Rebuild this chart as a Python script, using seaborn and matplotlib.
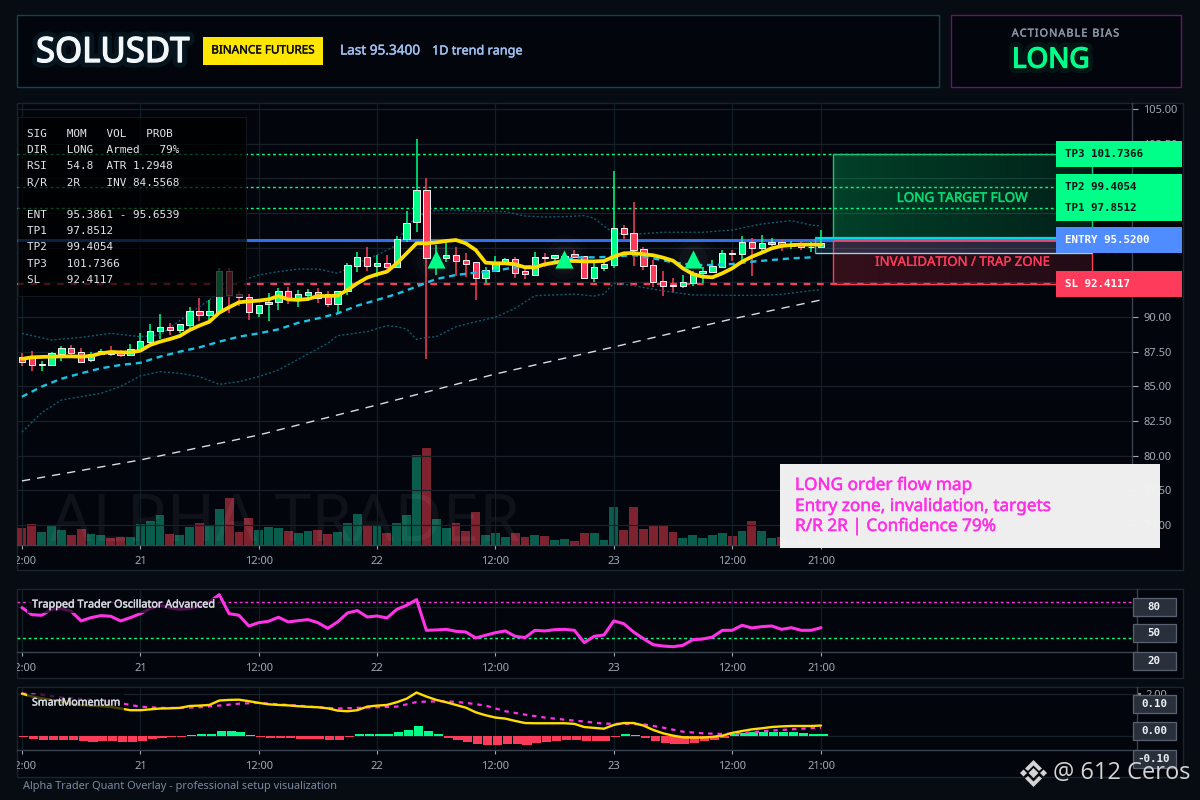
import numpy as np
import pandas as pd
import matplotlib
matplotlib.use("Agg")
import matplotlib.pyplot as plt
import matplotlib.patheffects as pe
from matplotlib.patches import Rectangle, Polygon
from matplotlib.transforms import blended_transform_factory, Bbox
import seaborn as sns

# candles, one per hour, 20th 12:00 to 23rd 21:00
opens = [87.14,87.09,86.54,86.56,87.33,87.74,87.50,86.90,87.33,87.57,87.50,87.24,87.62,88.22,89.01,89.25,89.09,89.45,90.41,90.17,
         90.38,93.32,91.63,91.47,90.31,90.91,91.06,91.85,91.27,91.59,91.78,91.63,90.96,91.85,93.70,94.30,93.70,93.87,93.63,95.65,
         96.83,99.13,93.87,94.25,94.45,94.09,93.94,92.84,93.34,93.82,94.16,93.29,93.05,94.35,94.25,94.20,94.52,94.38,92.84,93.56,
         93.77,96.39,96.03,94.90,93.73,92.57,92.33,92.26,92.45,93.17,93.27,93.63,94.62,94.57,95.38,95.00,95.29,95.38,95.12,95.24,95.02,95.02]
highs = [87.43,87.55,86.83,87.45,87.91,87.98,87.74,87.50,87.67,87.91,87.62,88.03,88.82,89.50,90.22,89.54,89.50,90.70,91.35,91.23,
         93.50,93.50,91.90,91.66,90.90,91.70,92.07,92.14,91.95,92.00,92.07,91.85,91.85,93.87,94.69,95.05,94.47,94.47,95.84,97.64,
         102.84,100.02,95.19,95.43,95.05,94.59,94.00,93.58,94.40,94.25,94.33,93.58,94.69,94.64,94.45,94.60,94.83,94.38,93.99,93.99,
         100.53,96.63,98.32,95.02,94.11,93.32,92.79,93.03,93.30,93.63,94.11,94.83,94.83,95.84,95.70,95.91,95.70,95.55,95.50,95.48,95.38,96.27]
lows = [86.49,86.13,86.13,86.56,86.85,87.14,86.73,86.78,87.26,87.19,87.14,87.19,87.57,87.98,88.39,88.70,88.82,89.18,89.71,89.78,
        90.38,90.26,90.79,89.78,89.98,89.74,90.50,90.94,90.70,91.15,91.03,90.75,90.31,91.59,93.25,93.34,92.91,93.20,93.63,95.43,
        96.13,87.00,93.03,93.99,92.98,92.91,91.23,92.48,93.27,93.82,92.84,92.74,93.05,93.58,93.87,93.70,94.23,92.72,92.55,93.34,
        93.56,95.60,93.70,93.39,92.19,91.54,91.71,92.12,92.26,92.48,93.20,93.63,94.04,93.87,92.96,94.71,95.12,94.76,94.90,94.83,94.71,95.00]
closes = [86.78,86.54,86.59,87.38,87.74,87.43,86.78,87.31,87.57,87.33,87.26,87.67,88.25,88.97,89.25,89.09,89.47,90.41,90.17,90.41,
          93.32,91.61,91.47,90.34,90.84,91.08,91.85,91.30,91.63,91.78,91.35,90.96,91.85,93.73,94.30,93.70,93.87,93.63,95.60,96.75,
          99.13,94.23,94.35,94.45,94.06,93.85,92.84,93.37,93.87,94.16,93.20,93.08,94.30,94.25,94.45,94.40,94.35,92.84,93.58,93.80,
          96.39,96.01,94.83,93.70,92.55,92.26,92.26,92.50,93.15,93.32,93.65,94.59,94.57,95.38,95.00,95.31,95.41,95.14,95.24,95.02,95.07,95.34]
volume = [17.3,21.3,13.3,19.3,15.3,10.3,16.3,11.3,10.3,7.3,8.3,8.3,21.3,24.3,30.3,11.3,10.3,18.3,22.3,20.3,
          36.3,47.3,13.3,27.3,15.3,18.3,17.3,14.3,12.3,14.3,15.3,11.3,13.3,22.3,31.3,20.3,19.3,12.3,22.3,30.3,
          90,97,26.3,17.3,22.3,14.3,33.3,10.3,12.3,8.3,12.3,8.3,10.3,9.3,5.3,6.3,4.3,12.3,12.3,5.3,
          38.3,15.3,38.3,16.3,20.3,20.3,13.3,7.3,10.3,7.3,10.3,12.3,9.3,14.3,24.3,14.3,7.3,8.3,6,8,6,8]

ema_fast = [86.98,87.09,87.12,87.14,87.16,87.16,87.14,87.19,87.38,87.48,87.45,87.45,87.57,87.98,88.22,88.41,88.63,89.06,89.38,89.66,
            90.31,90.70,91.06,91.13,91.18,91.27,91.51,91.27,91.23,91.30,91.51,91.51,91.54,91.95,92.43,92.84,93.08,93.27,93.87,94.59,
            95.31,95.31,95.38,95.48,95.55,95.31,94.83,93.92,93.87,93.87,93.80,93.58,93.58,93.80,93.92,94.04,94.04,94.01,94.01,94.04,
            94.35,94.59,94.62,94.52,94.45,94.28,94.06,93.51,93.10,92.91,92.86,93.15,93.51,93.99,94.35,94.64,94.95,95.12,95.19,95.22,95.22,95.22]
slow_x = list(range(0, 82, 2))
ema_slow = [84.25,84.98,85.55,85.94,86.30,86.54,86.70,87.14,87.50,87.81,88.22,88.58,88.82,89.11,89.58,89.90,90.26,90.82,91.23,91.66,
            92.19,92.74,93.03,93.20,93.34,93.58,93.68,93.87,94.30,94.30,94.35,94.47,94.23,93.94,93.75,93.75,93.82,93.99,94.11,94.23,94.30]
upper_x = [0,3,6,9,12,14,17,19,20,22,24,26,28,30,32,34,36,38,39,40,41,43,46,49,51,53,55,57,58,59,60,62,65,69,72,75,78,80,81]
upper_band = [88.82,88.34,88.53,88.82,88.58,88.70,90.26,91.23,91.83,92.55,93.03,93.27,93.45,93.46,93.15,93.87,94.47,95.19,96.63,97.12,97.60,97.72,97.64,97.60,97.28,97.21,97.24,97.31,97.12,96.56,96.03,95.96,96.11,96.11,96.27,96.71,96.95,96.63,96.56]
lower_x = [0,2,4,8,10,12,14,16,18,20,22,24,26,28,31,32,35,37,38,39,40,41,42,44,46,48,50,52,54,56,58,59,60,62,65,68,72,75,77,80,81]
lower_band = [81.70,83.10,84.01,84.50,84.98,85.75,86.06,85.94,85.70,85.14,85.34,85.70,86.18,86.95,88.10,88.65,88.94,89.38,89.30,89.13,88.39,88.53,88.58,89.30,89.66,89.98,90.63,91.54,91.59,91.65,91.51,91.66,92.43,92.26,91.88,91.59,91.56,91.56,91.63,91.90,91.95]
trend_x = [0,12,24,36,48,60,72,81]
trend = [78.18,79.69,81.49,83.66,85.89,87.84,89.86,91.23]
signal_x = [42, 55, 68]
signal_y = [94.18, 94.18, 94.18]

# levels
tp3, tp2, tp1, entry, stop = 101.7366, 99.4054, 97.8512, 95.52, 92.4117
zone_top, zone_bottom = 95.69, 94.62

osc = [79.3,71.5,70.8,77.4,78.2,75.2,64.5,68.2,70.4,69.7,64.5,68.2,72.6,78.2,81.9,78.9,77.4,78.2,81.1,85.6,
       93.7,72.6,70.8,58.9,62.6,64.1,68.6,63.4,64.8,66.0,62.6,56.3,63.4,73.4,76.0,68.9,70.0,67.8,77.4,81.9,
       88.2,54.1,54.5,55.2,53.0,52.2,45.6,48.6,51.5,53.4,47.4,46.0,54.1,53.4,54.8,55.2,54.1,40.4,47.4,48.9,
       64.5,61.5,52.2,44.8,38.1,36.6,35.9,37.4,43.7,44.4,46.6,54.1,54.1,59.7,56.7,58.2,58.9,55.2,57.0,54.1,54.1,57.0]
momentum = [2.03,1.89,1.81,1.73,1.62,1.55,1.49,1.46,1.43,1.40,1.32,1.24,1.24,1.28,1.32,1.33,1.35,1.44,1.46,1.49,
            1.70,1.73,1.74,1.67,1.59,1.52,1.49,1.47,1.43,1.40,1.38,1.33,1.22,1.19,1.24,1.41,1.46,1.49,1.62,1.79,
            2.08,1.89,1.73,1.62,1.49,1.36,1.14,1.00,0.89,0.84,0.73,0.63,0.62,0.62,0.62,0.62,0.59,0.44,0.40,0.36,
            0.54,0.63,0.63,0.51,0.30,0.14,0.03,-0.05,-0.06,-0.06,-0.03,0.03,0.16,0.25,0.33,0.38,0.44,0.47,0.49,0.49,0.49,0.51]
mom_sig_x = [0,2,4,6,8,10,11,12,14,16,18,20,22,24,26,28,30,32,34,36,38,40,41,43,45,47,49,51,53,55,57,59,61,63,65,67,69,71,73,75,77,79,81]
mom_sig = [2.03,1.97,1.85,1.78,1.68,1.57,1.49,1.41,1.35,1.35,1.38,1.46,1.55,1.59,1.52,1.46,1.38,1.32,1.35,1.38,1.41,1.63,1.65,1.67,1.59,1.46,1.19,1.03,0.89,0.79,0.70,0.60,0.59,0.57,0.41,0.22,0.14,0.11,0.14,0.24,0.30,0.36,0.41]
mom_hist = [-0.02,-0.13,-0.17,-0.17,-0.17,-0.17,-0.22,-0.27,-0.22,-0.22,-0.27,-0.27,-0.22,-0.13,-0.08,-0.03,-0.02,0.06,0.11,0.11,
            0.25,0.25,0.21,0.06,-0.02,-0.08,-0.08,-0.08,-0.13,-0.13,-0.13,-0.17,-0.17,-0.02,0.11,0.11,0.11,0.11,0.21,0.30,
            0.49,0.25,0.11,-0.08,-0.17,-0.27,-0.37,-0.41,-0.41,-0.37,-0.37,-0.41,-0.32,-0.27,-0.22,-0.17,-0.17,-0.22,-0.22,-0.22,
            -0.02,0.11,0.06,-0.08,-0.22,-0.32,-0.37,-0.37,-0.32,-0.22,-0.17,-0.10,0.11,0.16,0.21,0.21,0.21,0.21,0.21,0.16,0.11,0.11]

tick_pos = [0, 12, 24, 36, 48, 60, 72, 81]
tick_labels = ["12:00", "21", "12:00", "22", "12:00", "23", "12:00", "21:00"]
price_ticks = [75 + 2.5 * k for k in range(13)]

table_rows = ["SIG   MOM   VOL   PROB", "DIR   LONG  Armed   79%", "RSI   54.8  ATR 1.2948", "R/R   2R    INV 84.5568", "",
              "ENT   95.3861 - 95.6539", "TP1   97.8512", "TP2   99.4054", "TP3   101.7366", "SL    92.4117"]
note_lines = ["LONG order flow map", "Entry zone, invalidation, targets", "R/R 2R | Confidence 79%"]

GREEN, RED, BLUE = "#00ff88", "#ff3b5c", "#2f6fe8"
MAGENTA, YELLOW, CYAN = "#ff33e6", "#ffdd00", "#19c3e6"
PANEL, FRAME = "#02050b", "#1b2531"
SPINE, TICK = "#3a424f", "#a3a9b3"
MONO = "DejaVu Sans Mono"

sns.set_theme(style="dark")
plt.rcParams["font.family"] = ["Noto Sans", "DejaVu Sans"]

W, H = 1200, 800
fig = plt.figure(figsize=(12, 8), dpi=100, facecolor="#070b12")


def px_axes(x0, y0, x1, y1, **kw):
    return fig.add_axes([x0 / W, 1 - y1 / H, (x1 - x0) / W, (y1 - y0) / H], **kw)


def heavy(t, w=0.45, extra=None):
    # Noto Sans here only has the regular cut, so thicken it with a stroke
    t.set_path_effects((extra or []) + [pe.withStroke(linewidth=w, foreground=t.get_color())])
    return t


# pixel canvas for the page furniture, under and over the charts
back = px_axes(0, 0, W, H, zorder=0)
front = px_axes(0, 0, W, H, zorder=10)
for a in (back, front):
    a.set_xlim(0, W)
    a.set_ylim(H, 0)
    a.axis("off")

for x0, y0, x1, y1, ec in [(17, 15, 939, 87, "#0f4552"), (951, 15, 1181, 87, "#66166b"),
                           (17, 103, 1183, 570, FRAME), (17, 589, 1183, 678, FRAME), (17, 687, 1183, 777, FRAME)]:
    back.add_patch(Rectangle((x0, y0), x1 - x0, y1 - y0, fc=PANEL, ec=ec, lw=1))

df = pd.DataFrame({"x": np.arange(len(opens)), "open": opens, "high": highs, "low": lows, "close": closes,
                   "volume": volume, "fast": ema_fast, "osc": osc, "mom": momentum, "hist": mom_hist})
df["dir"] = np.where(df["close"] >= df["open"], "up", "down")
df["hist_dir"] = np.where(df["hist"] >= 0, "up", "down")
df["hist_x"] = df["x"] + 0.2
XL = (-0.5, 112.53)


def style_x(ax, xlim):
    ax.set_xlim(*xlim)
    ax.set_xticks(tick_pos)
    ax.set_xticklabels(tick_labels)
    ax.set_xlabel("")
    ax.set_ylabel("")
    ax.tick_params(axis="x", colors=TICK, labelsize=8, length=3, width=0.8, pad=5, bottom=True)
    ax.grid(True, axis="x", color="#0f2027", lw=0.9)
    ax.grid(True, axis="y", color="#1a2027", lw=0.9)
    ax.set_axisbelow(True)
    ax.patch.set_visible(False)
    for s in ("top", "left"):
        ax.spines[s].set_visible(False)
    for s in ("bottom", "right"):
        ax.spines[s].set_visible(True)
        ax.spines[s].set_color(SPINE)
        ax.spines[s].set_linewidth(1)
    # the first label is cut by the panel edge in the source
    lab = ax.get_xticklabels()[0]
    lab.set_clip_on(True)
    lab.set_clip_box(Bbox.from_extents(17, 0, W, H))


# main price chart
ax = px_axes(17, 103, 1132, 545, zorder=2)
ax_vol = ax.twinx()
sns.barplot(data=df, x="x", y="volume", hue="dir", palette={"up": "#0a5c4c", "down": "#7f2230"}, dodge=False,
            native_scale=True, legend=False, width=0.9, saturation=1, edgecolor="none", linewidth=0, ax=ax_vol)
ax_vol.set_ylim(0, 442)
ax_vol.set_yticks([])
ax_vol.set_ylabel("")
ax_vol.patch.set_visible(False)
for s in ax_vol.spines.values():
    s.set_visible(False)
ax_vol.text(2.84, 4, "ALPHA TRADER", fontsize=47.5, color="white", alpha=0.055, clip_on=True, zorder=5)
ax_vol.set_zorder(1)
ax.set_zorder(2)

body_colors = [GREEN if d == "up" else RED for d in df["dir"]]
ax.vlines(df["x"], df["low"], df["high"], colors=body_colors, lw=1.1, zorder=3)
ax.bar(df["x"], (df["close"] - df["open"]).abs().clip(lower=0.06), bottom=df[["open", "close"]].min(axis=1),
       width=0.64, color=body_colors, edgecolor="#f2f5f5", linewidth=0.7, zorder=3.5)

band_style = dict(color="#0f5b6c", lw=1.0, linestyle=(0, (1.5, 1.5)), errorbar=None, legend=False, zorder=3, ax=ax)
sns.lineplot(x=upper_x, y=upper_band, **band_style)
sns.lineplot(x=lower_x, y=lower_band, **band_style)
sns.lineplot(x=trend_x, y=trend, color="#d8dde3", lw=1.0, linestyle=(0, (6, 5)), errorbar=None, zorder=3, ax=ax)
sns.lineplot(x=slow_x, y=ema_slow, color=CYAN, lw=1.7, linestyle=(0, (2.6, 2)), errorbar=None, zorder=4, ax=ax)
sns.lineplot(data=df, x="x", y="fast", color=YELLOW, lw=2.7, errorbar=None, zorder=5, ax=ax)

for size, alpha in [(1300, 0.015), (800, 0.02), (420, 0.03)]:
    ax.scatter(signal_x, signal_y, s=size, color="white", alpha=alpha, lw=0, zorder=5.5)
ax.scatter(signal_x, signal_y, s=170, marker="^", color=GREEN, lw=0, zorder=6)

line_end = 104.8
for lvl in (tp3, tp2, tp1):
    ax.hlines(lvl, XL[0], line_end, color=GREEN, lw=1, linestyle=(0, (2, 2)), zorder=2.5)
ax.hlines(entry, XL[0], line_end, color=BLUE, lw=2.2, zorder=2.5)
ax.hlines(stop, XL[0], line_end, color=RED, lw=1.6, linestyle=(0, (3, 3)), zorder=2.5)

zone_l, zone_r, entry_l = 82.2, 108.5, 80.4


def gradient_zone(top, bottom, rgb, a0, a1, ec):
    grad = np.zeros((1, 64, 4))
    grad[..., :3] = rgb
    grad[..., 3] = np.linspace(a0, a1, 64)
    ax.imshow(grad, extent=(zone_l, zone_r, bottom, top), aspect="auto", zorder=2, interpolation="bilinear")
    ax.add_patch(Rectangle((zone_l, bottom), zone_r - zone_l, top - bottom, fc="none", ec=ec, lw=1, zorder=2.6))


gradient_zone(tp3, zone_top, (0, 1, 0.53), 0.24, 0.11, "#15c878")
gradient_zone(zone_top - 0.15, stop, (1, 0.23, 0.36), 0.2, 0.13, RED)
ax.add_patch(Rectangle((entry_l, zone_bottom), zone_r - entry_l, zone_top - zone_bottom, fc="#38b6ff", alpha=0.16, zorder=2.7))
ax.hlines(zone_top, entry_l, zone_r, color="#00d8f0", lw=1.6, zorder=2.8)
ax.hlines(zone_bottom, entry_l, zone_r, color="#8fdcf0", lw=0.9, zorder=2.8)
ax.vlines(entry_l, zone_bottom, zone_top, color="#2fb8d0", lw=0.9, zorder=2.8)
heavy(ax.text(95.3, 98.55, "LONG TARGET FLOW", color="#08d974", fontsize=9.7, ha="center", va="center", zorder=7), 0.35)
heavy(ax.text(95.3, 93.94, "INVALIDATION / TRAP ZONE", color=RED, fontsize=9.5, ha="center", va="center", zorder=7), 0.2)

ax.set_ylim(73.56, 105.43)
ax.yaxis.tick_right()
ax.set_yticks(price_ticks)
ax.set_yticklabels([f"{p:.2f}" for p in price_ticks])
ax.tick_params(axis="y", colors=TICK, labelsize=8, length=4, width=0.8, pad=4, right=True, left=False)
style_x(ax, XL)

# right hand price tags, drawn over the axis labels
tag_tf = blended_transform_factory(front.transData, ax.transData)
tag_h = 26 / 13.87
for lvl, fc in [(tp3, GREEN), (tp2, GREEN), (tp1, GREEN), (entry, "#4f8cff"), (stop, RED)]:
    front.add_patch(Rectangle((1056, lvl - tag_h / 2), 126, tag_h, fc=fc, ec="none", transform=tag_tf, clip_on=False))
for lvl, txt, tc in [(tp3, "TP3 101.7366", "#04121a"), (tp2, "TP2 99.4054", "#04121a"), (tp1, "TP1 97.8512", "#04121a"),
                     (entry, "ENTRY 95.5200", "white"), (stop, "SL 92.4117", "white")]:
    front.text(1065, lvl, txt, transform=tag_tf, color=tc, family=MONO, fontsize=7.8, fontweight="bold", va="center", clip_on=False)

# trapped trader oscillator
ax2 = px_axes(17, 589, 1137, 652, zorder=2)
ax2.set_ylim(30, 100)
ax2.hlines(86, XL[0], 112.4, color=MAGENTA, lw=1, linestyle=(0, (2, 2)), zorder=2)
ax2.hlines(46, XL[0], 112.4, color=GREEN, lw=1, linestyle=(0, (2, 2)), zorder=2)
sns.lineplot(data=df, x="x", y="osc", color=MAGENTA, lw=2.2, errorbar=None, zorder=3, ax=ax2)
ax2.yaxis.tick_right()
ax2.set_yticks([80])
ax2.set_yticklabels([""])
ax2.tick_params(axis="y", length=0)
style_x(ax2, (XL[0], 113.03))

# momentum pane
ax3 = px_axes(17, 687.5, 1137, 750.3, zorder=2)
sns.barplot(data=df, x="hist_x", y="hist", hue="hist_dir", palette={"up": GREEN, "down": RED}, dodge=False,
            native_scale=True, legend=False, width=0.92, saturation=1, edgecolor="none", linewidth=0, ax=ax3, zorder=2)
sns.lineplot(x=mom_sig_x, y=mom_sig, color=MAGENTA, lw=1.6, linestyle=(0, (2, 2.2)), errorbar=None, zorder=3, ax=ax3)
sns.lineplot(data=df, x="x", y="mom", color=YELLOW, lw=1.7, errorbar=None, zorder=4, ax=ax3)
ax3.set_ylim(-0.667, 2.32)
ax3.yaxis.tick_right()
ax3.set_yticks([0, 2])
ax3.set_yticklabels(["", "2.00"])
ax3.tick_params(axis="y", colors=TICK, labelsize=8, length=3, pad=3, right=True, left=False)
style_x(ax3, (XL[0], 113.03))

# value chips on the lower panes
for cy, txt in [(606.7, "80"), (633.4, "50"), (661.3, "20"), (704.3, "0.10"), (731.3, "0.00"), (759.3, "-0.10")]:
    front.add_patch(Rectangle((1132.5, cy - 9), 43, 18, fc="#2a303b", ec="#596171", lw=0.9))
    front.text(1154, cy, txt, color="#eef1f5", family=MONO, fontsize=7.8, fontweight="bold", ha="center", va="center")

for x0, y0, x1, y1, txt, fs, tx, ty in [(27, 598, 220, 613, "Trapped Trader Oscillator Advanced", 7.8, 32, 605),
                                         (27, 694, 124, 712, "SmartMomentum", 7.6, 32, 703)]:
    front.add_patch(Rectangle((x0, y0), x1 - x0, y1 - y0, fc="#02050b", alpha=0.72, ec="none"))
    heavy(front.text(tx, ty, txt, color="#d5d9e0", fontsize=fs, va="center"), 0.3)

# header
heavy(front.text(36, 53, "SOLUSDT", color="#f4f7fa", fontsize=25, va="center"), 1.0,
      [pe.withStroke(linewidth=8, foreground="#0c3a48", alpha=0.3)])
front.add_patch(Rectangle((203, 37), 120, 28, fc="#ffe600", ec="none"))
heavy(front.text(263, 51, "BINANCE FUTURES", color="#0b0d12", fontsize=8.4, ha="center", va="center"), 0.3)
heavy(front.text(340, 51, "Last 95.3400", color="#9fc0f0", fontsize=9.8, va="center"), 0.3)
heavy(front.text(432, 51, "1D trend range", color="#9fc0f0", fontsize=9.1, va="center"), 0.3)
heavy(front.text(1065.5, 34, "\u200a".join("ACTIONABLE BIAS"), color="#8b94a5", fontsize=7.8, ha="center", va="center"), 0.3)
heavy(front.text(1012, 60.5, "LONG", color=GREEN, fontsize=20, va="center"), 1.0,
      [pe.withStroke(linewidth=8, foreground="#06382a", alpha=0.35)])

# stats table
front.add_patch(Rectangle((18, 117), 228, 179, fc="#000000", alpha=0.72, ec="#1a1f26", lw=0.8))
for row, ty in zip(table_rows, [134, 150, 166, 183, 199, 215, 231, 247, 264, 280]):
    front.text(27, ty, row, color="#e2e5ea", family=MONO, fontsize=7.9, va="center")

# note card
front.add_patch(Rectangle((780, 464), 380, 84, fc="#f4f4f4", alpha=0.98, ec="none"))
for line, ty in zip(note_lines, [485, 506, 526]):
    heavy(front.text(795, ty, line, color="#ff2fe8", fontsize=12.4, va="center"), 0.35)

front.text(23, 787, "Alpha Trader Quant Overlay - professional setup visualization", color="#7a8a9e", fontsize=7.9, va="center")

# watermark, bottom right
logo = [[(1033.5, 768), (1038.5, 773), (1033.5, 778), (1028.5, 773)],
        [(1020, 773), (1023.5, 769.5), (1027, 773), (1023.5, 776.5)],
        [(1040, 773), (1043.5, 769.5), (1047, 773), (1043.5, 776.5)],
        [(1033.5, 760), (1042, 768.5), (1039, 771), (1033.5, 765.5), (1028, 771), (1025, 768.5)],
        [(1033.5, 787), (1042, 778.5), (1039, 776), (1033.5, 781.5), (1028, 776), (1025, 778.5)]]
for pts in logo:
    front.add_patch(Polygon(pts, closed=True, fc="#d4d4d4", ec="none"))
front.text(1053, 773, "@ 612 Ceros", color="#d4d4d4", fontsize=17, family="Open Sans", va="center")

fig.savefig("out.png", dpi=100, facecolor=fig.get_facecolor())
